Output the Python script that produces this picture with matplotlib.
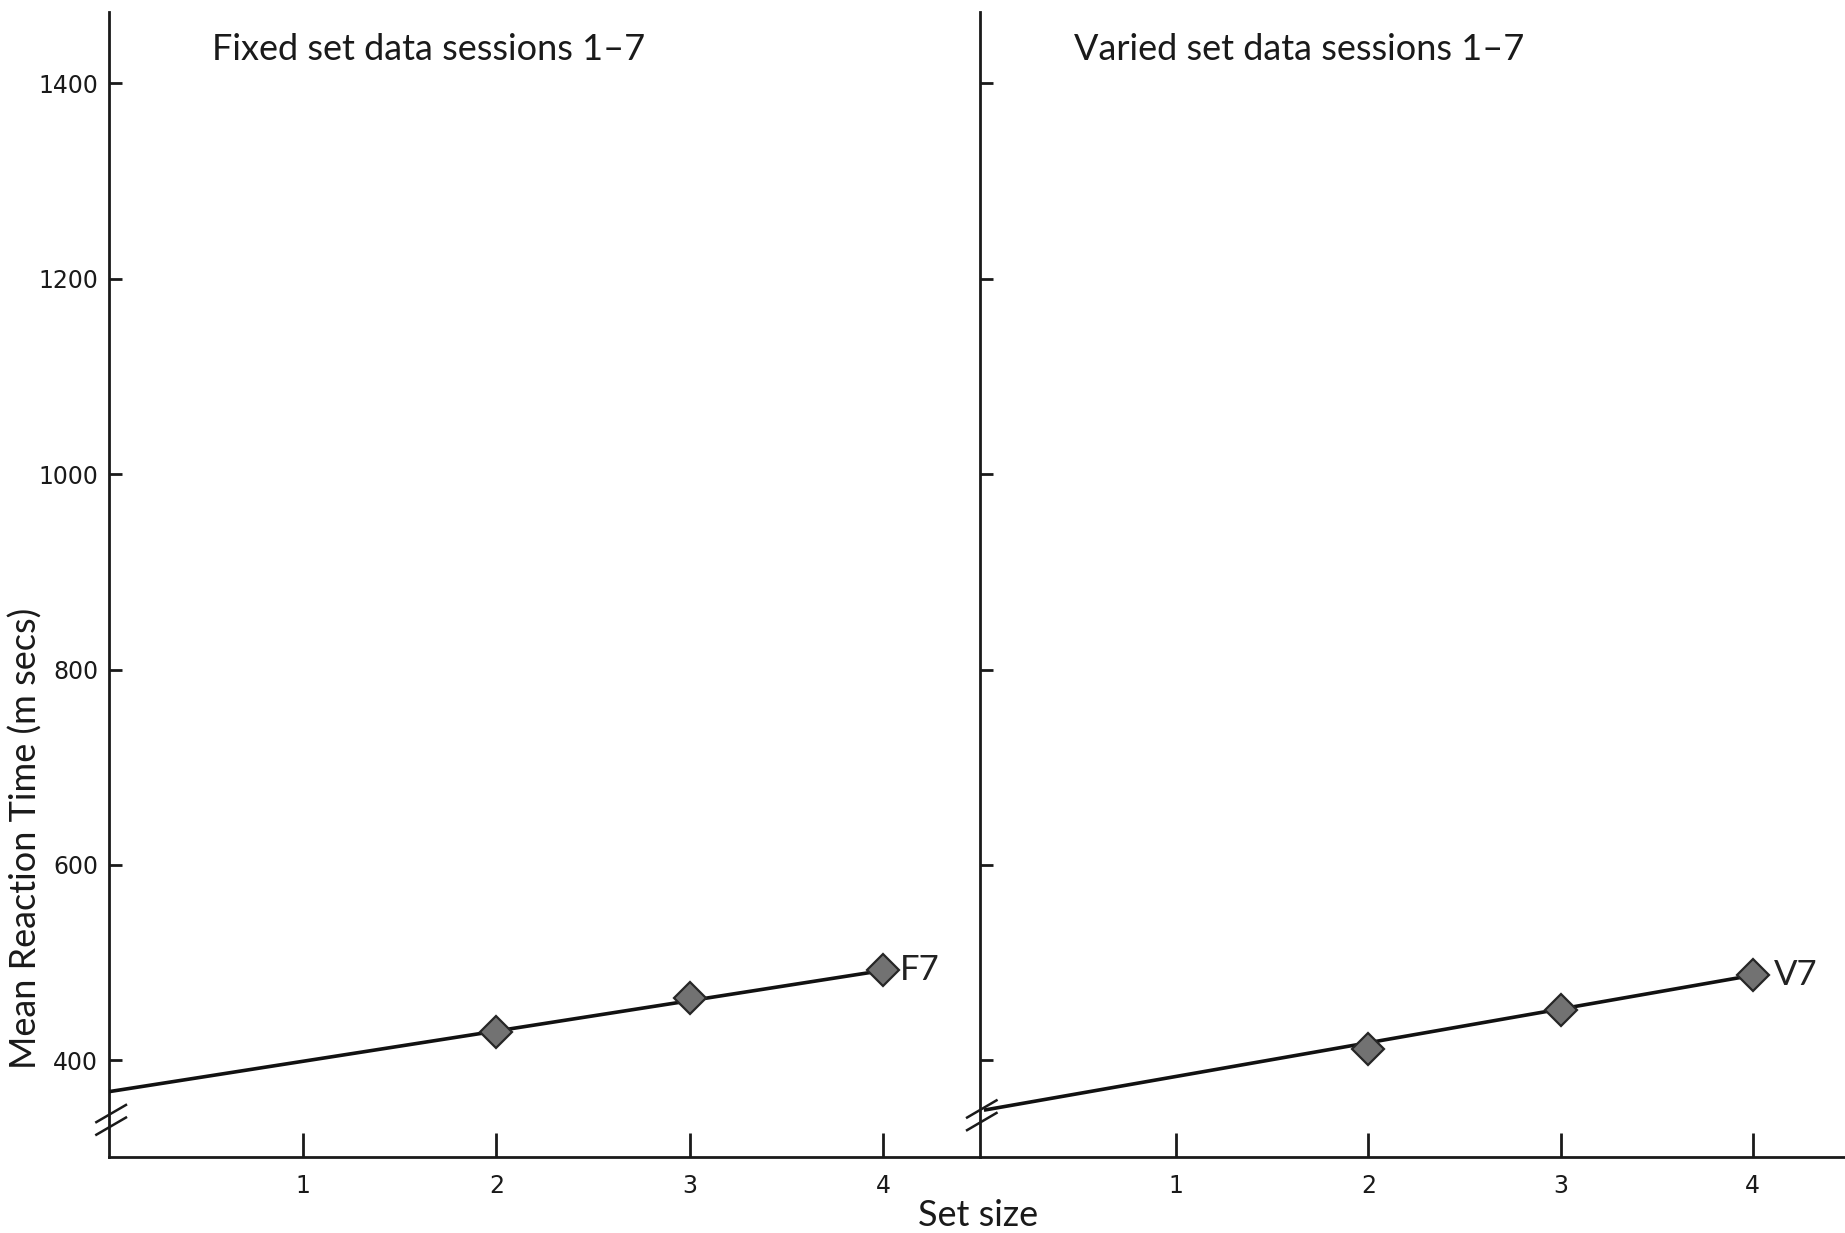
import matplotlib
matplotlib.use('Agg')
from matplotlib import pyplot as plt
import matplotlib.transforms as mtransforms

# Mean reaction time by set size, sessions 1-7
set_sizes = [2, 3, 4]
fixed_rt = [429, 464, 492]
varied_rt = [412, 451, 487]

# Fitted lines drawn from set size 0 to 4
fit_x = [0, 4]
fixed_fit = [368, 492]
varied_fit = [349, 487]

x_ticks = [1, 2, 3, 4]
y_ticks = [400, 600, 800, 1000, 1200, 1400]

panel_titles = ['Fixed set data sessions 1\u20137', 'Varied set data sessions 1\u20137']
end_labels = ['F7', 'V7']

tick_font = 'Liberation Sans Narrow'
text_font = 'Lato'
ink = '#1a1a1a'

fig = plt.figure(figsize=(18.45, 12.33), dpi=100)
ax1 = fig.add_axes([0.0593, 0.0616, 0.4719, 0.9287])
ax2 = fig.add_axes([0.5312, 0.0616, 0.4688, 0.9287])

# axes, data, fit, x range, label offset, break y (axes fraction), title x
panels = [
    (ax1, fixed_rt, fixed_fit, (0, 4.5), 12, 0.027, 0.1148),
    (ax2, varied_rt, varied_fit, (-0.02, 4.48), 15, 0.031, 0.5823),
]

for i, (ax, rt, fit, xlim, lab_off, brk_y, tx) in enumerate(panels):
    ax.plot(fit_x, fit, color='#111111', lw=2.6, solid_capstyle='butt', zorder=3, clip_on=False)
    ax.plot(set_sizes, rt, ls='none', marker='D', ms=16, mfc='#727272',
            mec='#262626', mew=1.6, zorder=4)
    ax.annotate(end_labels[i], (set_sizes[-1], rt[-1]), xytext=(lab_off, 0),
                textcoords='offset points', va='center', ha='left',
                fontsize=25, family=text_font, color='#222222')

    ax.set_xlim(*xlim)
    ax.set_ylim(301, 1473)
    ax.set_xticks(x_ticks)
    ax.set_yticks(y_ticks)
    ax.spines['top'].set_visible(False)
    ax.spines['right'].set_visible(False)
    for s in ['left', 'bottom']:
        ax.spines[s].set_linewidth(2.0)
        ax.spines[s].set_color(ink)
    ax.tick_params(axis='x', direction='in', length=17, width=2.0, pad=12,
                   labelsize=17, colors=ink)
    ax.tick_params(axis='y', direction='in', length=9, width=2.0, pad=8,
                   labelsize=17, colors=ink)
    for t in ax.get_xticklabels() + ax.get_yticklabels():
        t.set_family(tick_font)
    if i == 1:
        ax.set_yticklabels([])
    ax.patch.set_alpha(0)

    # axis break slashes across the y axis
    trans = mtransforms.blended_transform_factory(ax.transAxes, ax.transAxes)
    for dy in (0.0, 0.011):
        ax.plot([-0.015, 0.019], [brk_y - 0.0075 + dy, brk_y + 0.0075 + dy],
                transform=trans, color=ink, lw=1.8, clip_on=False, zorder=5)

    fig.text(tx, 0.960, panel_titles[i], ha='left', va='center', fontsize=26,
             family=text_font, color=ink)

fig.text(0.014, 0.32, 'Mean Reaction Time (m secs)', rotation=90, va='center',
         ha='center', fontsize=26, family=text_font, color=ink)
fig.text(0.53, 0.014, 'Set size', ha='center', va='center', fontsize=26,
         family=text_font, color=ink)

plt.savefig('out.png', dpi=100)
